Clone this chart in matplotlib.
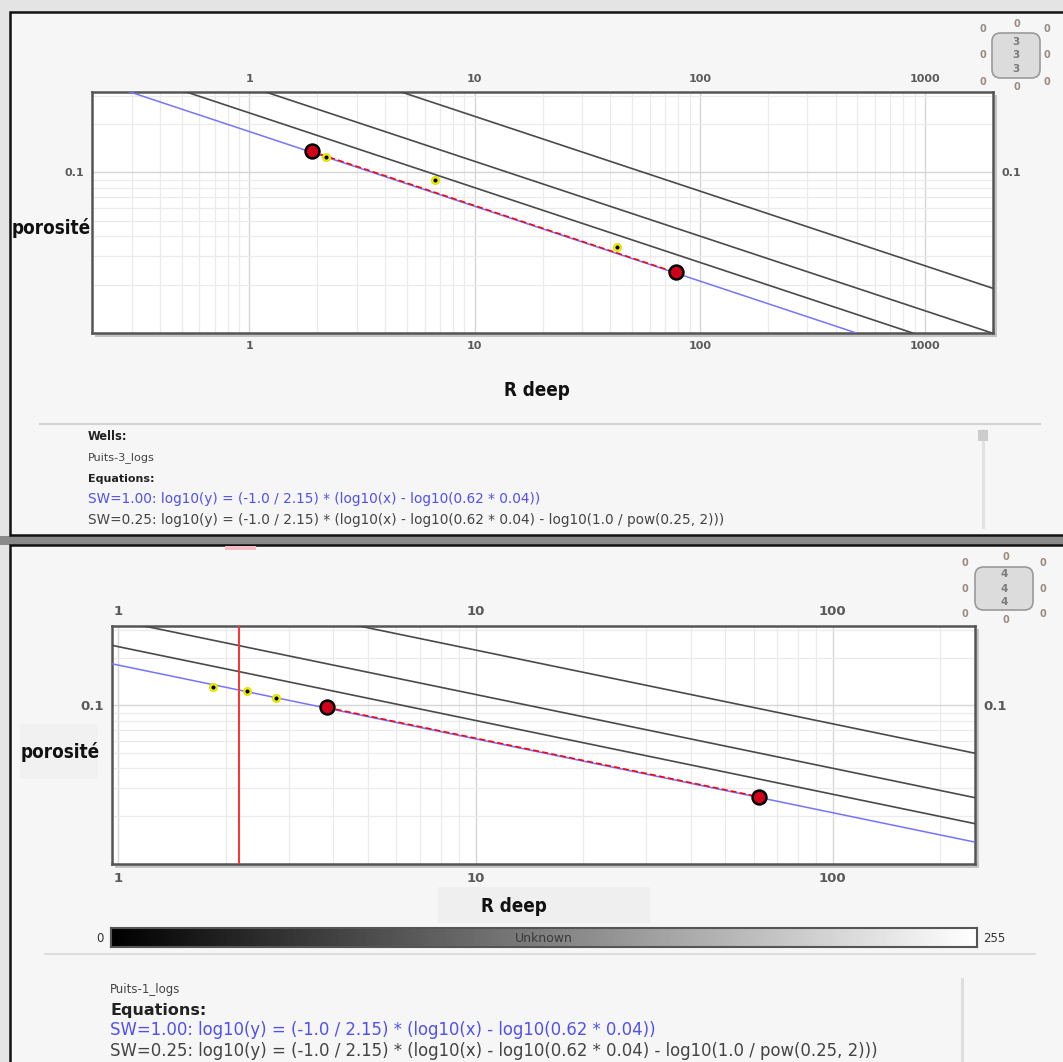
import numpy as np
import matplotlib.pyplot as plt
from matplotlib.patches import Rectangle, FancyBboxPatch
from matplotlib.lines import Line2D
from matplotlib.ticker import LogLocator, NullFormatter, FixedLocator, FixedFormatter

# Pickett plot parameters (Archie: a, Rw, m, n)
a_coef = 0.62
rw = 0.04
m_exp = 2.15
n_exp = 2
sw_curves = [1.00, 0.75, 0.50, 0.25]

# Puits-3_logs
p3_rt = [2.18, 6.64, 42.8]
p3_phi = [0.124, 0.0891, 0.0345]
p3_pick_rt = [1.89, 78.0]
p3_pick_phi = [0.135, 0.0238]

# Puits-1_logs
p1_rt = [1.84, 2.29, 2.77]
p1_phi = [0.1296, 0.1224, 0.1106]
p1_pick_rt = [3.83, 62.3]
p1_pick_phi = [0.097, 0.0265]
p1_cutoff = 2.18

eq_sw1 = "SW=1.00: log10(y) = (-1.0 / 2.15) * (log10(x) - log10(0.62 * 0.04))"
eq_sw025 = ("SW=0.25: log10(y) = (-1.0 / 2.15) * (log10(x) - log10(0.62 * 0.04)"
            " - log10(1.0 / pow(0.25, 2)))")

W, H = 1063, 1062
fig = plt.figure(figsize=(W / 100, H / 100), dpi=100)
fig.patch.set_facecolor('#e4e4e4')

# bold condensed font for the axis titles
TITLE = dict(family='DejaVu Sans', fontstretch='condensed', fontweight='bold',
             color='#111111')


def fx(x):
    return x / W


def fy(y):
    return 1 - y / H


def rect(x0, y0, x1, y1, **kw):
    r = Rectangle((fx(x0), fy(y1)), (x1 - x0) / W, (y1 - y0) / H,
                  transform=fig.transFigure, **kw)
    fig.patches.append(r)
    return r


def hline(x0, x1, y, **kw):
    fig.add_artist(Line2D([fx(x0), fx(x1)], [fy(y), fy(y)], **kw))


def vline(x, y0, y1, **kw):
    fig.add_artist(Line2D([fx(x), fx(x)], [fy(y0), fy(y1)], **kw))


def sw_phi(rt, sw):
    # log10(phi) = (-1/m) * (log10(Rt) - log10(a*Rw) - log10(1/Sw^n))
    lg = (-1.0 / m_exp) * (np.log10(rt) - np.log10(a_coef * rw)
                           - np.log10(1.0 / sw ** n_exp))
    return 10 ** lg


def pickett_axes(box, xlim, xticks, labelsize, pad):
    x0, y0, x1, y1 = box
    rect(x0 + 3, y0 + 3, x1 + 4, y1 + 4, fc='#c4c4c4', ec='none', zorder=1)
    ax = fig.add_axes([fx(x0), fy(y1), (x1 - x0) / W, (y1 - y0) / H], zorder=2)
    ax.set_facecolor('white')
    ax.set_xscale('log')
    ax.set_yscale('log')
    ax.set_xlim(*xlim)
    ax.set_ylim(0.01, 0.316)
    ax.xaxis.set_major_locator(FixedLocator(xticks))
    ax.xaxis.set_major_formatter(FixedFormatter([f"{t:g}" for t in xticks]))
    ax.xaxis.set_minor_locator(LogLocator(base=10, subs=np.arange(2, 10), numticks=20))
    ax.xaxis.set_minor_formatter(NullFormatter())
    ax.yaxis.set_major_locator(FixedLocator([0.01, 0.1]))
    ax.yaxis.set_major_formatter(FixedFormatter(['', '0.1']))
    ax.yaxis.set_minor_locator(LogLocator(base=10, subs=np.arange(2, 10), numticks=20))
    ax.yaxis.set_minor_formatter(NullFormatter())
    ax.grid(which='major', color='#d6d6d6', lw=1.0)
    ax.grid(which='minor', color='#ebebeb', lw=0.9)
    ax.set_axisbelow(True)
    ax.tick_params(which='both', length=0, labeltop=True, labelright=True,
                   labelsize=labelsize, labelcolor='#5a5a5a', pad=pad)
    for t in ax.get_xticklabels() + ax.get_yticklabels():
        t.set_fontweight('bold')
    for s in ax.spines.values():
        s.set_color('#555555')
        s.set_linewidth(1.8)

    xs = np.array([xlim[0] * 0.5, xlim[1] * 2])
    for sw in sw_curves:
        if sw == 1.0:
            ax.plot(xs, sw_phi(xs, sw), color='#7474ff', lw=1.1, zorder=3)
        else:
            ax.plot(xs, sw_phi(xs, sw), color='#4a4a4a', lw=1.2, zorder=3)
    return ax


def draw_points(ax, rt, phi, pick_rt, pick_phi):
    ax.plot(pick_rt, pick_phi, color='red', lw=1.1, ls=(0, (4, 2)), zorder=4)
    ax.plot(rt, phi, 'o', ms=5.5, mfc='#ffff00', mec='#e0e000', zorder=5)
    ax.plot(rt, phi, 'o', ms=2, mfc='black', mec='black', zorder=6)
    ax.plot(pick_rt, pick_phi, 'o', ms=10, mfc='#d0001a', mec='black', mew=1.8,
            zorder=7)


def spinner(cx, y_box0, y_box1, w, xs, ys_side, y_top, y_bot, val, ys_val):
    box = FancyBboxPatch((fx(cx - w / 2), fy(y_box1)), w / W, (y_box1 - y_box0) / H,
                         boxstyle='round,pad=0,rounding_size=0.008',
                         transform=fig.transFigure, fc='#dcdcdc', ec='#9a9a9a', lw=1.2)
    fig.patches.append(box)
    kw = dict(fontsize=7, color='#9a8a80', ha='center', va='center', fontweight='bold')
    for x in (xs[0], xs[2]):
        for y in ys_side:
            fig.text(fx(x), fy(y), '0', **kw)
    fig.text(fx(xs[1]), fy(y_top), '0', **kw)
    fig.text(fx(xs[1]), fy(y_bot), '0', **kw)
    for y in ys_val:
        fig.text(fx(cx), fy(y), val, fontsize=7.5, color='#7a7a7a', ha='center',
                 va='center', fontweight='bold')


# ---- frames ----
rect(0, 536, W, 545, fc='#8a8a8a', ec='none', zorder=0)
rect(10, 12, 1075, 535, fc='#f6f6f6', ec='#111111', lw=1.8, zorder=0.5)
rect(10, 545, 1075, 1075, fc='#f6f6f6', ec='#111111', lw=1.8, zorder=0.5)
rect(225, 546, 256, 550, fc='#f5bcc4', ec='none', zorder=0.6)

# ---- top panel: Puits-3 ----
ax1 = pickett_axes((92, 92, 993, 333), (0.2, 2000), [1, 10, 100, 1000], 8, 6)
draw_points(ax1, p3_rt, p3_phi, p3_pick_rt, p3_pick_phi)

fig.text(fx(12), fy(228), 'porosité', fontsize=13.5, ha='left', va='center', **TITLE)
fig.text(fx(537), fy(390), 'R deep', fontsize=13.5, ha='center', va='center', **TITLE)

spinner(1016, 33, 78, 48, (983, 1017, 1047), (29, 55, 82), 24, 87, '3', (42, 55, 69))

hline(40, 1040, 424, color='#d4d4d4', lw=1.5)
vline(983, 430, 527, color='#e0e0e0', lw=2)
rect(978, 430, 988, 441, fc='#cccccc', ec='none', zorder=3)

fig.text(fx(88), fy(437), 'Wells:', fontsize=8.3, fontweight='bold', color='#222222',
         va='center')
fig.text(fx(88), fy(458), 'Puits-3_logs', fontsize=8.1, color='#444444', va='center')
fig.text(fx(88), fy(479), 'Equations:', fontsize=8, fontweight='bold', color='#222222',
         va='center')
fig.text(fx(88), fy(499), eq_sw1, fontsize=9.8, color='#5050f0', va='center')
fig.text(fx(88), fy(520), eq_sw025, fontsize=9.8, color='#444444', va='center')

# ---- bottom panel: Puits-1 ----
ax2 = pickett_axes((112, 626, 975, 864), (0.96, 250), [1, 10, 100], 9.5, 6)
draw_points(ax2, p1_rt, p1_phi, p1_pick_rt, p1_pick_phi)
ax2.axvline(p1_cutoff, color='#ff3030', lw=1.4, zorder=4)

rect(20, 724, 98, 779, fc='#f1f1f1', ec='none', zorder=0.7)
fig.text(fx(21), fy(752), 'porosité', fontsize=13.5, ha='left', va='center', **TITLE)
rect(438, 887, 650, 923, fc='#efefef', ec='none', zorder=0.7)
fig.text(fx(514), fy(906), 'R deep', fontsize=13.5, ha='center', va='center', **TITLE)

spinner(1004, 567, 610, 58, (965, 1006, 1043), (563, 589, 614), 557, 620, '4',
        (574, 589, 602))

# colour scale bar
cax = fig.add_axes([fx(111), fy(947), (977 - 111) / W, (947 - 928) / H], zorder=2)
cax.imshow(np.linspace(0, 255, 256)[None, :], cmap='gray', aspect='auto',
           vmin=0, vmax=255)
cax.set_xticks([])
cax.set_yticks([])
for s in cax.spines.values():
    s.set_color('#555555')
    s.set_linewidth(1.5)
cax.text(0.5, 0.45, 'Unknown', transform=cax.transAxes, ha='center', va='center',
         fontsize=9, color='#3a3a3a')
fig.text(fx(100), fy(938), '0', fontsize=8.5, color='#333333', ha='center', va='center')
fig.text(fx(983), fy(938), '255', fontsize=8.5, color='#333333', ha='left', va='center')

hline(45, 1035, 954, color='#dedede', lw=1.5)
vline(962, 979, 1062, color='#dddddd', lw=2)

fig.text(fx(110), fy(990), 'Puits-1_logs', fontsize=8.5, color='#444444', va='center')
fig.text(fx(110), fy(1010), 'Equations:', fontsize=11.5, fontweight='bold',
         color='#222222', va='center')
fig.text(fx(110), fy(1030), eq_sw1, fontsize=11.9, color='#5050f0', va='center')
fig.text(fx(110), fy(1051), eq_sw025, fontsize=11.9, color='#444444', va='center')

fig.savefig('out.png', dpi=100, facecolor=fig.get_facecolor())
